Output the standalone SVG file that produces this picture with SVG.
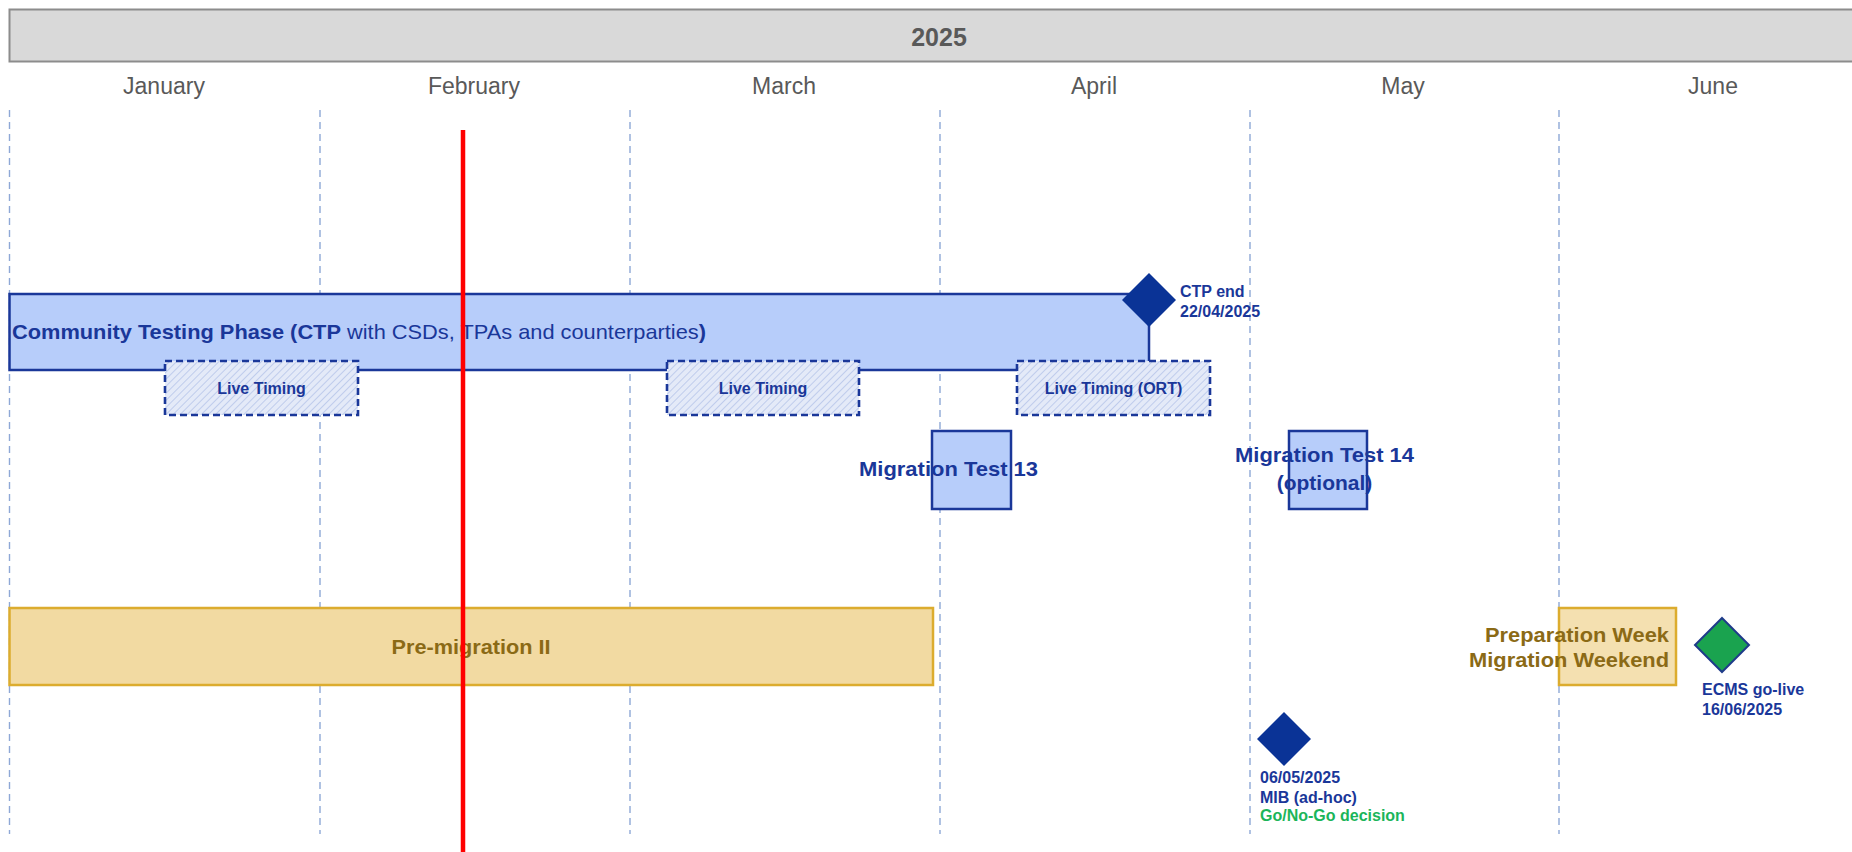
<svg xmlns="http://www.w3.org/2000/svg" width="1852" height="852" viewBox="0 0 1852 852">
<defs>
<pattern id="hatch" patternUnits="userSpaceOnUse" width="5" height="5" patternTransform="rotate(45)">
<rect width="5" height="5" fill="#e4eaf8"/>
<line x1="0" y1="0" x2="0" y2="5" stroke="#b3c3e8" stroke-width="1.5"/>
</pattern>
<style>
text{font-family:"Liberation Sans",Arial,sans-serif}
.month{font-size:23px;fill:#595959;text-anchor:middle}
.grid{stroke:#8ea8d6;stroke-width:1.4;stroke-dasharray:7 5}
.navy{fill:#1a3799;font-weight:bold}
.live{fill:url(#hatch);stroke:#1a3799;stroke-width:2.6;stroke-dasharray:7 4}
.livet{font-size:16px;fill:#1a3799;font-weight:bold;text-anchor:middle}
.box{fill:#b7cdfa;stroke:#1a3799;stroke-width:2.5}
.gold{fill:#f2daa2;stroke:#dcac2e;stroke-width:2.5}
.goldt{fill:#8b6a16;font-weight:bold}
.dia{fill:#0a3396}
.small{font-size:16px}
</style>
</defs>
<rect width="1852" height="852" fill="#ffffff"/>
<g id="header">
<rect x="9.5" y="9.5" width="1850" height="52" fill="#d9d9d9" stroke="#8c8c8c" stroke-width="2"/>
<text x="939" y="46" font-size="25" font-weight="bold" fill="#595959" text-anchor="middle">2025</text>
</g>
<g id="months">
<text class="month" x="164" y="94">January</text>
<text class="month" x="474" y="94">February</text>
<text class="month" x="784" y="94">March</text>
<text class="month" x="1094" y="94">April</text>
<text class="month" x="1403" y="94">May</text>
<text class="month" x="1713" y="94">June</text>
</g>
<g id="gridlines">
<line class="grid" x1="9.5" y1="110" x2="9.5" y2="834"/>
<line class="grid" x1="320" y1="110" x2="320" y2="834"/>
<line class="grid" x1="630" y1="110" x2="630" y2="834"/>
<line class="grid" x1="940" y1="110" x2="940" y2="834"/>
<line class="grid" x1="1250" y1="110" x2="1250" y2="834"/>
<line class="grid" x1="1559" y1="110" x2="1559" y2="834"/>
</g>
<g id="connectors"></g>
<g id="ctp">
<rect class="box" x="9.5" y="294" width="1139.5" height="76"/>
<text x="12" y="339" font-size="21" fill="#1a3799" textLength="694" lengthAdjust="spacingAndGlyphs"><tspan font-weight="bold">Community Testing Phase (CTP</tspan> with CSDs, TPAs and counterparties<tspan font-weight="bold">)</tspan></text>
</g>
<g id="live-timing-1">
<rect class="live" x="165" y="361" width="193" height="54"/>
<text class="livet" x="261.5" y="394">Live Timing</text>
</g>
<g id="live-timing-2">
<rect class="live" x="667" y="361" width="192" height="54"/>
<text class="livet" x="763" y="394">Live Timing</text>
</g>
<g id="live-timing-ort">
<rect class="live" x="1017" y="361" width="193" height="54"/>
<text class="livet" x="1113.5" y="394">Live Timing (ORT)</text>
</g>
<g id="ctp-end">
<polygon class="dia" points="1149,273 1176,300 1149,327 1122,300"/>
<text class="navy small" x="1180" y="297">CTP end</text>
<text class="navy small" x="1180" y="317">22/04/2025</text>
</g>
<g id="migration-test-13">
<rect class="box" x="932" y="431" width="79" height="78"/>
<text class="navy" x="948.5" y="476" font-size="21" text-anchor="middle" textLength="179" lengthAdjust="spacingAndGlyphs">Migration Test 13</text>
</g>
<g id="migration-test-14">
<rect class="box" x="1289" y="431" width="78" height="78"/>
<text class="navy" x="1324.5" y="462" font-size="21" text-anchor="middle" textLength="179" lengthAdjust="spacingAndGlyphs">Migration Test 14</text>
<text class="navy" x="1324.5" y="490" font-size="21" text-anchor="middle">(optional)</text>
</g>
<g id="pre-migration">
<rect class="gold" x="9.5" y="608" width="923.5" height="77"/>
<text class="goldt" x="471" y="654" font-size="20" text-anchor="middle" textLength="159" lengthAdjust="spacingAndGlyphs">Pre-migration II</text>
</g>
<g id="preparation">
<rect class="gold" x="1559" y="608" width="117" height="77" fill-opacity="0.85"/>
<text class="goldt" x="1669" y="642" font-size="21" text-anchor="end" textLength="184" lengthAdjust="spacingAndGlyphs">Preparation Week</text>
<text class="goldt" x="1669" y="667" font-size="21" text-anchor="end" textLength="200" lengthAdjust="spacingAndGlyphs">Migration Weekend</text>
</g>
<g id="go-live">
<polygon points="1722,618 1749,645 1722,672 1695,645" fill="#1aa34f" stroke="#1f3b8a" stroke-width="2"/>
<text class="navy small" x="1702" y="695">ECMS go-live</text>
<text class="navy small" x="1702" y="715">16/06/2025</text>
</g>
<g id="mib">
<polygon class="dia" points="1284,712 1311,739 1284,766 1257,739"/>
<text class="navy small" x="1260" y="783">06/05/2025</text>
<text class="navy small" x="1260" y="803">MIB (ad-hoc)</text>
<text class="small" x="1260" y="821" font-weight="bold" fill="#1bb55a">Go/No-Go decision</text>
</g>
<g id="today-line">
<line x1="463" y1="130" x2="463" y2="852" stroke="#ff0000" stroke-width="4.5"/>
</g>
</svg>
